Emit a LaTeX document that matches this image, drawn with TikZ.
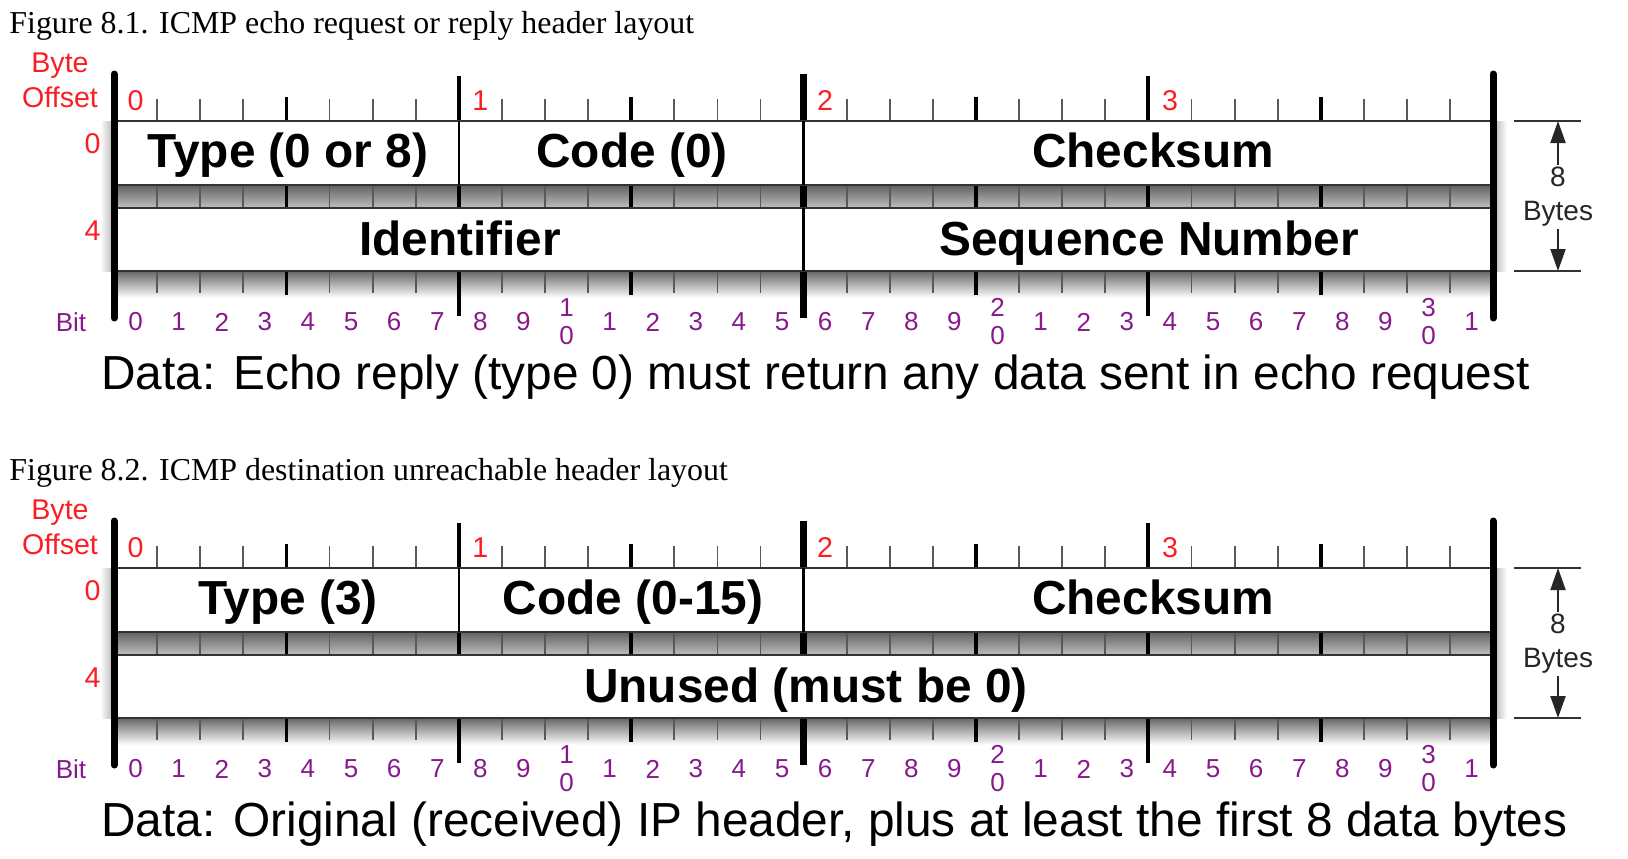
\documentclass[tikz,border=0pt]{standalone}
\usepackage{fontspec}
\setmainfont{Liberation Serif}
\newfontfamily\hvfont{Liberation Sans}
\usetikzlibrary{arrows.meta}

\definecolor{offred}{RGB}{250,30,35}
\definecolor{bitpurple}{RGB}{135,25,140}

\tikzset{
  bittick/.style={black!65,line width=0.9pt},
  nibtick/.style={black,line width=1.8pt},
  bytebar/.style={black,line width=2pt},
  wordbar/.style={black,line width=3.2pt},
  edgebar/.style={black,line width=3.5pt,line cap=round},
  rowline/.style={black!80,line width=1.3pt},
  divider/.style={black,line width=1.2pt},
  field/.style={inner sep=0pt,anchor=base,font=\hvfont\bfseries\fontsize{23.9}{28}\selectfont},
  offnum/.style={inner sep=0pt,text=offred,font=\hvfont\fontsize{14.3}{17}\selectfont},
  bitnum/.style={inner sep=0pt,text=bitpurple,align=center,font=\hvfont\fontsize{13}{14}\selectfont},
  datatext/.style={inner sep=0pt,anchor=base west,font=\hvfont\fontsize{23.9}{28}\selectfont},
  figtitle/.style={inner sep=0pt,anchor=base west,font=\fontsize{15.95}{18}\selectfont},
  sizetext/.style={inner sep=1pt,align=center,text=black!85,font=\hvfont\fontsize{14}{17}\selectfont},
  sizearrow/.style={black!85,line width=1pt,-{Triangle[length=11pt,width=7.5pt]}},
}

\begin{document}
\begin{tikzpicture}[x=0.5pt,y=-0.5pt]
\useasboundingbox (0,0) rectangle (1628,858);

% the two rulers are the same, only the fields differ
\foreach \dy/\f in {0/a,447/b}{
  \begin{scope}[shift={(0,\dy)}]
    \shade[top color=black!60,bottom color=white] (114,271) rectangle (1493,298);
    \shade[top color=black!62,bottom color=black!25] (114,185) rectangle (1493,208);
    \shade[left color=white,right color=black!30] (100,121) rectangle (114,271);
    \shade[left color=black!30,right color=white] (1493,121) rectangle (1507,271);
    \fill[white] (114,121) rectangle (1493,185) (114,208) rectangle (1493,271);
    % bit ticks
    \foreach \i in {1,...,31}
      \draw[bittick] ({114+43.1*\i},99) -- ++(0,22) ({114+43.1*\i},185) -- ++(0,23) ({114+43.1*\i},271) -- ++(0,22);
    \foreach \i in {4,12,20,28}
      \draw[nibtick] ({114+43.1*\i},97) -- ++(0,24) ({114+43.1*\i},185) -- ++(0,23) ({114+43.1*\i},271) -- ++(0,24);
    \foreach \i in {8,24}
      \draw[bytebar] ({114+43.1*\i},76) -- ++(0,45) ({114+43.1*\i},185) -- ++(0,23) ({114+43.1*\i},271) -- ++(0,45);
    \draw[wordbar] (803.6,74) -- (803.6,121) (803.6,185) -- (803.6,208) (803.6,271) -- (803.6,318);
    \draw[rowline] (114,121) -- (1493,121) (114,185) -- (1493,185) (114,208) -- (1493,208) (114,271) -- (1493,271);
    \draw[divider] (458.8,121) -- (458.8,185) (803.6,121) -- (803.6,185);
    \draw[edgebar] (114,74) -- (114,318) (1493,74) -- (1493,318);
    % offsets
    \node[offnum,anchor=base] (byte\f) at (60,72) {Byte};
    \node[offnum,anchor=base] (offset\f) at (60,107) {Offset};
    \foreach \b in {0,...,3}
      \node[offnum,anchor=base] (off\f\b) at ({114+43.1*(8*\b+0.5)},110) {\b};
    \node[offnum,anchor=base east] (row\f0) at (101,153) {0};
    \node[offnum,anchor=base east] (row\f4) at (101,240) {4};
    % bit numbers
    \node[bitnum,anchor=base] (bit\f) at (71,331) {Bit};
    \foreach \i in {0,...,31}{
      \pgfmathtruncatemacro\ones{mod(\i,10)}
      \pgfmathtruncatemacro\tens{\i/10}
      \ifnum\i>0 \ifnum\ones=0 \edef\lbl{\tens\noexpand\\0}\else\edef\lbl{\ones}\fi\else\def\lbl{0}\fi
      \node[bitnum] (bit\f\i) at ({114+43.1*(\i+0.5)},322) {\lbl};
    }
    % size bracket
    \draw[rowline] (1514,121) -- (1581,121) (1514,271) -- (1581,271);
    \node[sizetext] (size\f) at (1558,197) {8\\Bytes};
    \coordinate (sizetop\f) at (1558,121);
    \coordinate (sizebot\f) at (1558,271);
    \draw[sizearrow] (size\f.north) -- (sizetop\f);
    \draw[sizearrow] (size\f.south) -- (sizebot\f);
  \end{scope}
}

% Figure 8.1
\node[figtitle] (title1) at (9,33) {Figure 8.1. ICMP echo request or reply header layout};
\node[field] (atype) at (288,167) {Type (0 or 8)};
\node[field] (acode) at (632,167) {Code (0)};
\node[field] (acheck) at (1153,167) {Checksum};
\node[field] (aident) at (460,255) {Identifier};
\node[field] (aseq) at (1149,255) {Sequence Number};
\draw[divider] (803.6,208) -- (803.6,271);
\node[datatext] (data1) at (101,389) {Data: Echo reply (type 0) must return any data sent in echo request};

% Figure 8.2
\begin{scope}[shift={(0,447)}]
  \node[figtitle] (title2) at (9,33) {Figure 8.2. ICMP destination unreachable header layout};
  \node[field] (btype) at (288,167) {Type (3)};
  \node[field] (bcode) at (633,167) {Code (0-15)};
  \node[field] (bcheck) at (1153,167) {Checksum};
  \node[field] (bunused) at (806,255) {Unused (must be 0)};
  \node[datatext] (data2) at (101,389) {Data: Original (received) IP header, plus at least the first 8 data bytes};
\end{scope}
\end{tikzpicture}
\end{document}
